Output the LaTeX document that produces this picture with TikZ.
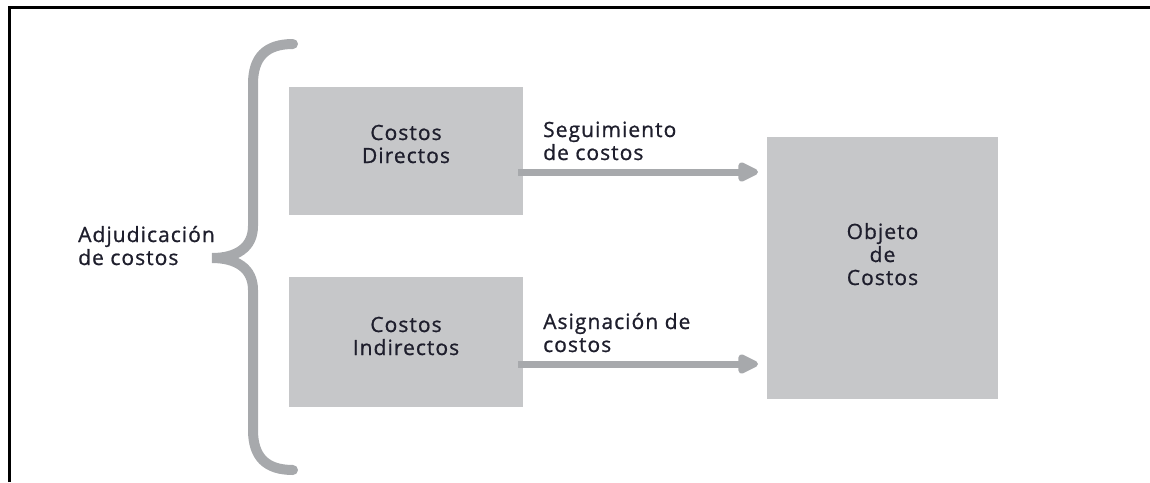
\documentclass[tikz,border=0pt]{standalone}
\usepackage{fontspec}
\setmainfont{Open Sans}[LetterSpace=5,FakeBold=0.9]
\usetikzlibrary{arrows.meta}
\definecolor{boxgray}{HTML}{C6C7C9}
\definecolor{linegray}{HTML}{A7A9AC}
\definecolor{txt}{HTML}{1E1E2C}
\begin{document}
\begin{tikzpicture}[x=1pt,y=-1pt,
  box/.style={fill=boxgray, draw=none, inner sep=0pt, outer sep=0pt},
  lab/.style={font=\fontsize{21}{23}\selectfont, text=txt, inner sep=0pt, align=center, anchor=base},
  llab/.style={font=\fontsize{21}{23}\selectfont, text=txt, inner sep=0pt, align=left, anchor=base west},
  arr/.style={draw=linegray, line width=7pt, -{Triangle[length=24pt,width=21pt,round]}},
  brace/.style={draw=linegray, line width=10pt, line cap=round}]
\useasboundingbox (0,0) rectangle (1150,482);
% frame
\draw[line width=2.5pt] (9.5,482) -- (9.5,7.5) -- (1150,7.5);
% boxes
\node[box, minimum width=234pt, minimum height=128pt] (d) at (406,151) {};
\node[box, minimum width=234pt, minimum height=130pt] (i) at (406,342) {};
\node[box, minimum width=231pt, minimum height=262pt] (o) at (882.5,268) {};
% labels in boxes (base anchor = last line)
\node[lab] (dl) at (406,163) {Costos\\Directos};
\node[lab] (il) at (406,355) {Costos\\Indirectos};
\node[lab] (ol) at (882.5,285) {Objeto\\de\\Costos};
% arrows
\draw[arr] ([shift={(-5,21)}]d.east) -- ([shift={(-9,21)}]d.east -| o.west);
\draw[arr] ([shift={(-5,22)}]i.east) -- ([shift={(-9,22)}]i.east -| o.west);
\node[llab] (sl) at (543,160) {Seguimiento\\de costos};
\node[llab] (al) at (543,352) {Asignación de\\costos};
% brace
\draw[brace] (293,44) .. controls (266,44) and (253,57) .. (253,84)
  -- (253,226) .. controls (253,248) and (236,258) .. (212,258)
  .. controls (236,258) and (253,268) .. (253,290)
  -- (253,430) .. controls (253,457) and (266,470) .. (293,470);
\node[llab] (adj) at (78,265) {Adjudicación\\de costos};
\end{tikzpicture}
\end{document}
